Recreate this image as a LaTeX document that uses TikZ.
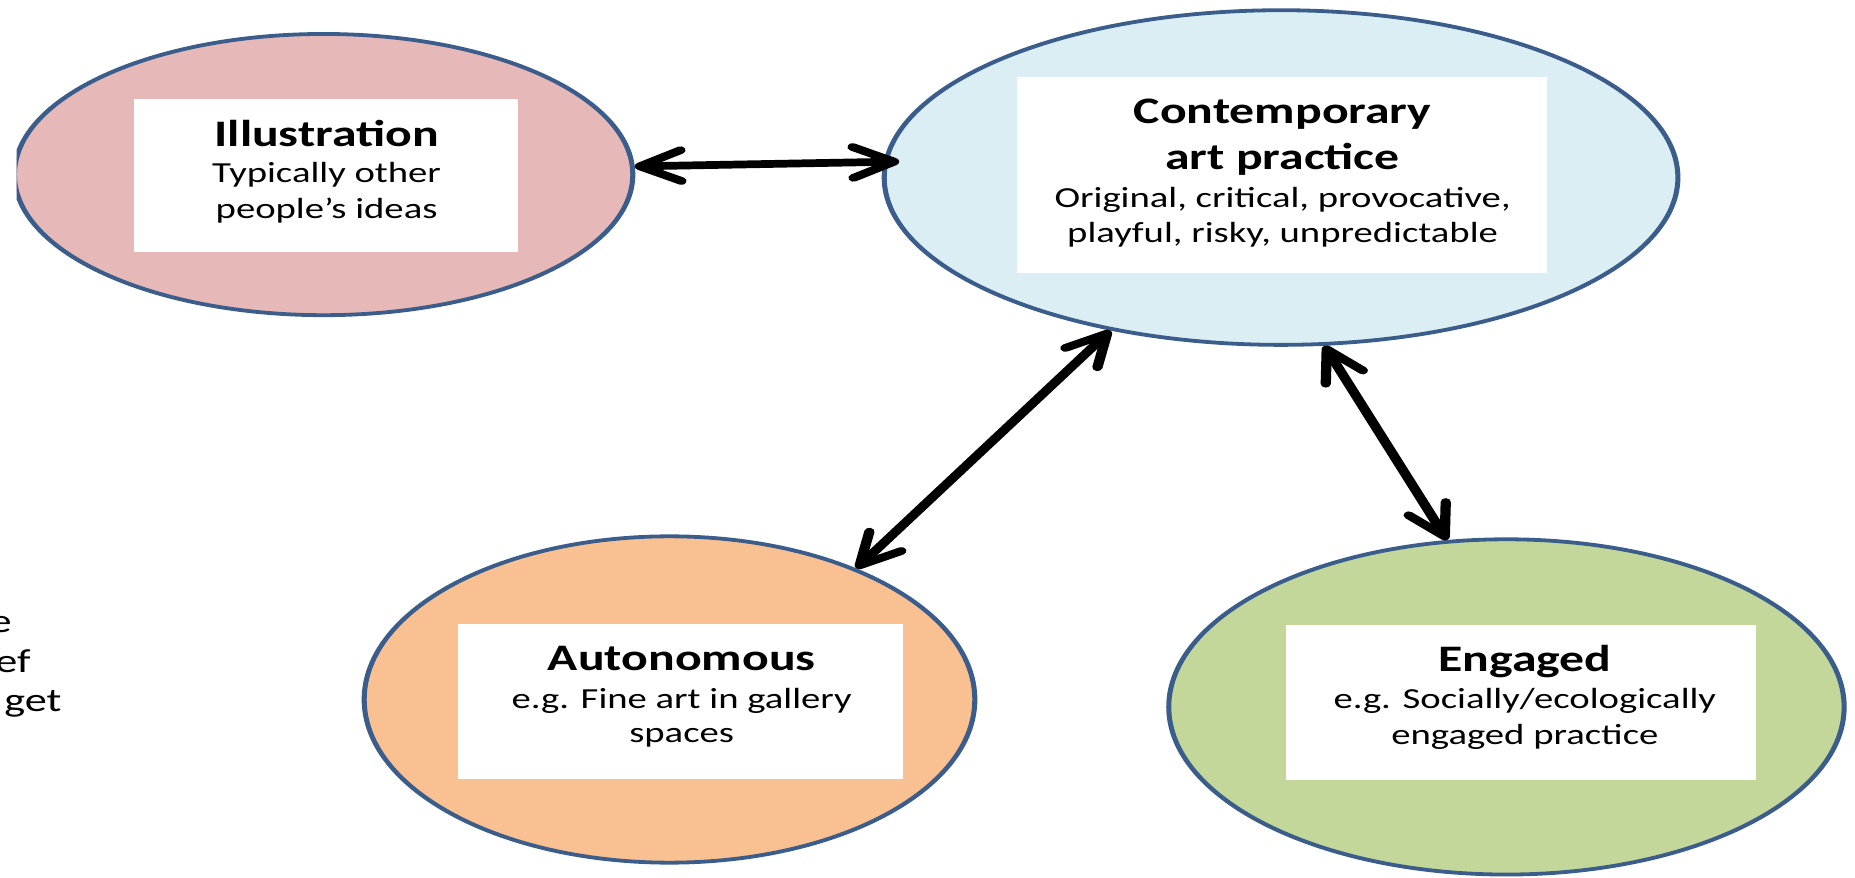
\documentclass[tikz,border=0pt]{standalone}
\usepackage{fontspec}
\setmainfont{Carlito}
\usetikzlibrary{shapes.geometric,arrows.meta}
\definecolor{edgeblue}{HTML}{3B5D8C}
\definecolor{pinkf}{HTML}{E6B8B7}
\definecolor{bluef}{HTML}{DBEEF4}
\definecolor{orangef}{HTML}{F9C091}
\definecolor{greenf}{HTML}{C4D79B}
\begin{document}
\begin{tikzpicture}[x=1pt,y=-1pt,
  bubble/.style={ellipse, draw=edgeblue, line width=3.2pt, inner sep=0pt},
  wbox/.style={fill=white, inner sep=0pt},
  ttl/.style={anchor=base, inner sep=0pt, font=\fontsize{31.5}{36}\selectfont\bfseries},
  bdy/.style={anchor=base, inner sep=0pt, font=\fontsize{24.5}{30}\selectfont},
  dbl/.style={line width=6.5pt, line cap=round,
    {Straight Barb[length=26pt,width=26pt,round]}-{Straight Barb[length=26pt,width=26pt,round]}},
  frag/.style={anchor=base east, inner sep=0pt, font=\fontsize{28}{33}\selectfont}]
\useasboundingbox (0,0) rectangle (1562,739);
\begin{scope}[transform canvas={xscale=1.33}, x=0.75188pt]
  \begin{scope}
    \clip (14,0) rectangle (1562,739);
    \node[bubble, fill=pinkf, minimum width=391.5pt, minimum height=236.8pt] (ill) at (272.5,147) {};
  \end{scope}
  \node[bubble, fill=bluef, minimum width=502.5pt, minimum height=281.8pt] (con) at (1078.7,149.5) {};
  \node[bubble, fill=orangef, minimum width=386.6pt, minimum height=274.8pt] (aut) at (563.75,589) {};
  \node[bubble, fill=greenf, minimum width=427.6pt, minimum height=282.3pt] (eng) at (1268.5,595.25) {};

  \node[wbox, minimum width=242.9pt, minimum height=129pt] (illbox) at (274.5,147.5) {};
  \node[wbox, minimum width=336.1pt, minimum height=165pt] (conbox) at (1079.5,147.5) {};
  \node[wbox, minimum width=281.2pt, minimum height=130.3pt] (autbox) at (573,590.5) {};
  \node[wbox, minimum width=297.4pt, minimum height=130.5pt] (engbox) at (1280.8,591.25) {};

  \node[ttl] (illa) at (275,123.5) {Illustration};
  \node[bdy] (illb) at (275,153.8) {Typically other};
  \node[bdy] (illc) at (275,183.8) {people’s ideas};

  \node[ttl] (cona) at (1080,104.4) {Contemporary};
  \node[ttl] (conb) at (1080,143.1) {art practice};
  \node[bdy] (conc) at (1080,174.6) {Original, critical, provocative,};
  \node[bdy] (cond) at (1080,204) {playful, risky, unpredictable};

  \node[ttl] (auta) at (574,564.7) {Autonomous};
  \node[bdy] (autb) at (574,596.2) {e.g. Fine art in gallery};
  \node[bdy] (autc) at (574,625.6) {spaces};

  \node[ttl] (enga) at (1284,565.3) {Engaged};
  \node[bdy] (engb) at (1284,596.2) {e.g. Socially/ecologically};
  \node[bdy] (engc) at (1284,627) {engaged practice};

  \draw[dbl, shorten >=-10pt] (ill.2.8) -- (con.177.2);
  \draw[dbl] (con.230.9) -- (aut.43.5);
  \draw[dbl] (con.281.7) -- (eng.105.1);

  \node[frag] (f1) at (10,533) {e};
  \node[frag] (f2) at (26,566) {ef};
  \node[frag] (f3) at (52,599) {get};
\end{scope}
\end{tikzpicture}
\end{document}
